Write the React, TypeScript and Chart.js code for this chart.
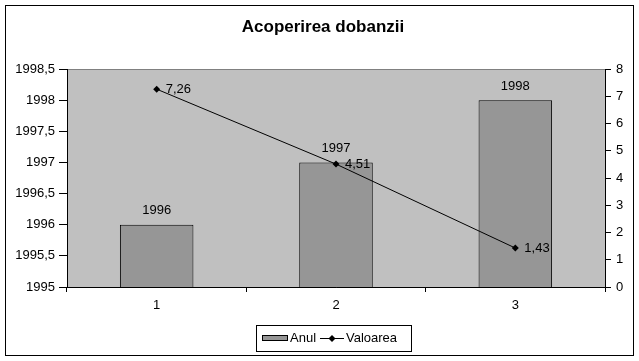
import React, { useEffect, useRef } from 'react';
import { Chart, registerables } from 'chart.js';

Chart.register(...registerables);

const TITLE = 'Acoperirea dobanzii';
const categories = ['1', '2', '3'];
const seriesNames = ['Anul', 'Valoarea'];
const anulValues = [1996, 1997, 1998];
const valoareaValues = [7.26, 4.51, 1.43];
const leftAxis = { min: 1995, max: 1998.5, step: 0.5 };
const rightAxis = { min: 0, max: 8, step: 1 };

const FONT = '"Liberation Sans", Arial, sans-serif';
const BAR_FILL = '#969696';
const PLOT_BG = '#c0c0c0';

const fmt = (v: number) => String(v).replace('.', ',');

const decorPlugin = {
  id: 'excelDecor',
  beforeDraw(chart: any) {
    const { ctx, chartArea: a } = chart;
    ctx.save();
    ctx.fillStyle = '#ffffff';
    ctx.fillRect(0, 0, chart.width, chart.height);
    ctx.strokeStyle = '#000';
    ctx.lineWidth = 1;
    ctx.strokeRect(5.5, 5.5, 628, 350);
    ctx.fillStyle = PLOT_BG;
    ctx.fillRect(a.left, a.top, a.right - a.left, a.bottom - a.top);
    ctx.strokeStyle = '#808080';
    ctx.beginPath();
    ctx.moveTo(a.left, Math.floor(a.top) + 0.5);
    ctx.lineTo(a.right, Math.floor(a.top) + 0.5);
    ctx.stroke();
    ctx.fillStyle = '#000';
    ctx.font = 'bold 17px ' + FONT;
    ctx.textAlign = 'center';
    ctx.textBaseline = 'alphabetic';
    ctx.fillText(TITLE, 323, 32);
    ctx.restore();
  },
  afterDatasetsDraw(chart: any) {
    const { ctx, chartArea: a } = chart;
    ctx.save();
    // axis lines on top of bars
    ctx.strokeStyle = '#000';
    ctx.lineWidth = 1;
    ctx.beginPath();
    const l = Math.floor(a.left) + 0.5;
    const r = Math.floor(a.right) + 0.5;
    const b = Math.floor(a.bottom) + 0.5;
    ctx.moveTo(l, a.top);
    ctx.lineTo(l, b);
    ctx.lineTo(r, b);
    ctx.moveTo(r, a.top);
    ctx.lineTo(r, b);
    ctx.stroke();

    ctx.fillStyle = '#000';
    ctx.font = '13px ' + FONT;
    ctx.textBaseline = 'middle';
    const barMeta = chart.getDatasetMeta(0);
    barMeta.data.forEach((el: any, i: number) => {
      ctx.textAlign = 'center';
      ctx.fillText(String(anulValues[i]), el.x, el.y - 14);
    });
    const lineMeta = chart.getDatasetMeta(1);
    lineMeta.data.forEach((el: any, i: number) => {
      ctx.textAlign = 'left';
      ctx.fillText(fmt(valoareaValues[i]), el.x + 9, el.y);
    });
    ctx.restore();
  },
  afterDraw(chart: any) {
    const { ctx } = chart;
    ctx.save();
    ctx.strokeStyle = '#000';
    ctx.lineWidth = 1;
    ctx.strokeRect(256.5, 325.5, 155, 26);
    // bar swatch
    ctx.fillStyle = BAR_FILL;
    ctx.fillRect(262, 335, 26, 6);
    ctx.strokeRect(262.5, 335.5, 25, 5);
    ctx.fillStyle = '#000';
    ctx.font = '13px ' + FONT;
    ctx.textAlign = 'left';
    ctx.textBaseline = 'middle';
    ctx.fillText(seriesNames[0], 290, 338.5);
    // line swatch
    ctx.beginPath();
    ctx.moveTo(320, 338.5);
    ctx.lineTo(344, 338.5);
    ctx.stroke();
    ctx.beginPath();
    ctx.moveTo(332, 335);
    ctx.lineTo(335.5, 338.5);
    ctx.lineTo(332, 342);
    ctx.lineTo(328.5, 338.5);
    ctx.closePath();
    ctx.fill();
    ctx.fillText(seriesNames[1], 346, 338.5);
    ctx.restore();
  },
};

export default function App() {
  const ref = useRef<HTMLCanvasElement | null>(null);

  useEffect(() => {
    document.body.style.margin = '0';
    const canvas = ref.current;
    if (!canvas) return;
    const chart = new Chart(canvas, {
      type: 'bar',
      data: {
        labels: categories,
        datasets: [
          {
            type: 'bar',
            label: seriesNames[0],
            data: anulValues,
            yAxisID: 'y',
            backgroundColor: BAR_FILL,
            borderColor: '#000',
            borderWidth: 1,
            barPercentage: 0.41,
            categoryPercentage: 1,
            order: 2,
          } as any,
          {
            type: 'line',
            label: seriesNames[1],
            data: valoareaValues,
            yAxisID: 'y1',
            borderColor: '#000',
            borderWidth: 1,
            backgroundColor: '#000',
            pointStyle: 'rectRot',
            pointRadius: 3.5,
            pointBorderWidth: 0,
            pointBackgroundColor: '#000',
            pointBorderColor: '#000',
            tension: 0,
            fill: false,
            order: 1,
          } as any,
        ],
      },
      options: {
        animation: false,
        responsive: false,
        events: [],
        layout: { padding: { top: 69, left: 0, right: 0, bottom: 44 } },
        plugins: {
          legend: { display: false },
          title: { display: false },
          tooltip: { enabled: false },
        },
        scales: {
          x: {
            type: 'category',
            offset: true,
            grid: {
              display: true,
              drawOnChartArea: false,
              offset: true,
              tickLength: 5,
              color: '#000',
            },
            border: { display: true, color: '#000' },
            ticks: { color: '#000', font: { size: 13, family: FONT }, padding: 6 },
            afterFit(scale: any) {
              scale.height = 30;
            },
          },
          y: {
            type: 'linear',
            position: 'left',
            min: leftAxis.min,
            max: leftAxis.max,
            grid: { drawOnChartArea: false, tickLength: 8, color: '#000' },
            border: { display: true, color: '#000' },
            ticks: {
              stepSize: leftAxis.step,
              color: '#000',
              font: { size: 13, family: FONT },
              padding: 4,
              callback: (v: any) => fmt(Number(v)),
            },
            afterFit(scale: any) {
              scale.width = 67;
            },
          },
          y1: {
            type: 'linear',
            position: 'right',
            min: rightAxis.min,
            max: rightAxis.max,
            grid: { drawOnChartArea: false, tickLength: 6, color: '#000' },
            border: { display: true, color: '#000' },
            ticks: {
              stepSize: rightAxis.step,
              color: '#000',
              font: { size: 13, family: FONT },
              padding: 5,
              callback: (v: any) => fmt(Number(v)),
            },
            afterFit(scale: any) {
              scale.width = 34;
            },
          },
        },
      } as any,
      plugins: [decorPlugin],
    });
    return () => chart.destroy();
  }, []);

  return (
    <div style={{ position: 'absolute', left: 0, top: 0, width: 639, height: 361 }}>
      <canvas ref={ref} width={639} height={361} style={{ display: 'block', width: 639, height: 361 }} />
    </div>
  );
}
